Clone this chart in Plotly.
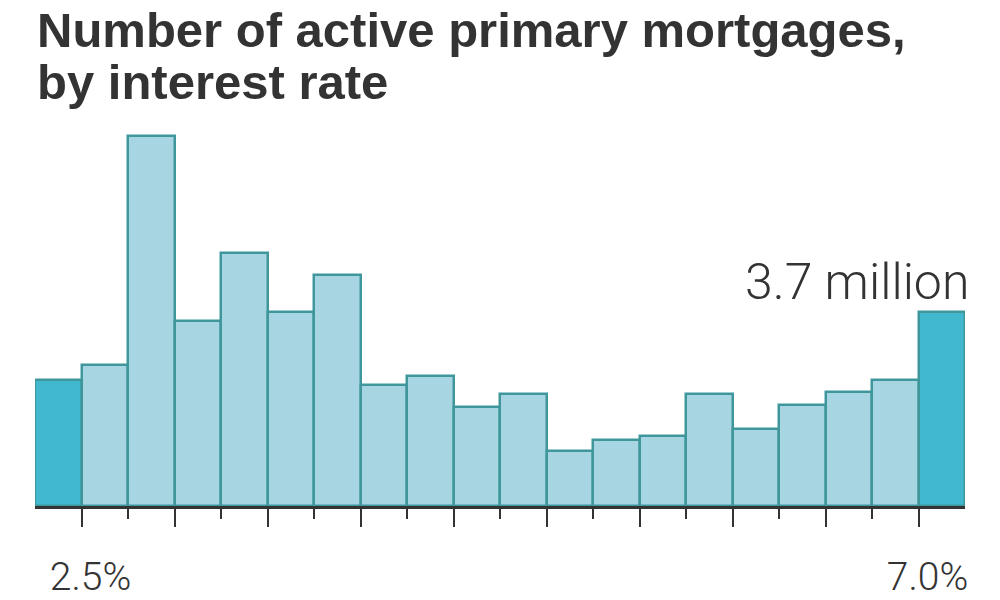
import plotly.graph_objects as go

# Data (millions of mortgages by interest-rate bin, 0.25-pt bins)
bin_centers = [2.375, 2.625, 2.875, 3.125, 3.375, 3.625, 3.875, 4.125, 4.375, 4.625,
               4.875, 5.125, 5.375, 5.625, 5.875, 6.125, 6.375, 6.625, 6.875, 7.125]
counts_millions = [2.40, 2.69, 7.06, 3.53, 4.83, 3.70, 4.41, 2.31, 2.48, 1.89,
                   2.14, 1.05, 1.26, 1.34, 2.14, 1.47, 1.93, 2.17, 2.40, 3.70]
major_ticks = [2.5, 3.0, 3.5, 4.0, 4.5, 5.0, 5.5, 6.0, 6.5, 7.0]
major_labels = ["2.5%", "", "", "", "", "", "", "", "", "7.0%"]
minor_ticks = [2.75, 3.25, 3.75, 4.25, 4.75, 5.25, 5.75, 6.25, 6.75]
title_line1 = "Number of active primary mortgages,"
title_line2 = "by interest rate"
callout = "3.7 million"

LIGHT = "#a8d5e2"
DARK = "#42b8cf"
EDGE = "#3f979c"
TEXT = "#333333"
TITLE_FONT = "Liberation Sans, Arial, sans-serif"
LIGHT_FONT = "Roboto, Liberation Sans, sans-serif"

colors = [DARK if i in (0, len(counts_millions) - 1) else LIGHT for i in range(len(counts_millions))]

fig = go.Figure(go.Bar(
    x=bin_centers, y=counts_millions, width=0.25,
    marker=dict(color=colors, line=dict(color=EDGE, width=2.5)),
    hoverinfo="x+y",
))

fig.update_layout(
    width=1000, height=600,
    margin=dict(l=35, r=35, t=113, b=94),
    paper_bgcolor="white", plot_bgcolor="white",
    bargap=0, showlegend=False,
    font=dict(family=TITLE_FONT, color=TEXT),
    xaxis=dict(
        range=[2.25, 7.25], showgrid=False, zeroline=False, automargin=False,
        showline=True, linecolor=TEXT, linewidth=3,
        tickmode="array", tickvals=major_ticks, ticktext=major_labels,
        ticks="outside", ticklen=18, tickwidth=2, tickcolor=TEXT,
        tickfont=dict(size=39, family=LIGHT_FONT, color=TEXT, weight=300),
        ticklabelstandoff=16, ticklabelshift=9,
        minor=dict(tickmode="array", tickvals=minor_ticks, ticks="outside",
                   ticklen=10, tickwidth=2, tickcolor=TEXT, showgrid=False),
        fixedrange=True,
    ),
    yaxis=dict(range=[0, 7.5], visible=False, fixedrange=True, automargin=False),
    annotations=[
        dict(text=title_line1, xref="paper", yref="paper", x=0, y=1 + (113 - 0.5) / 393,
             xanchor="left", yanchor="top", showarrow=False,
             font=dict(size=49, family=TITLE_FONT, color=TEXT, weight="bold")),
        dict(text=title_line2, xref="paper", yref="paper", x=0, y=1 + (113 - 53) / 393,
             xanchor="left", yanchor="top", showarrow=False,
             font=dict(size=49, family=TITLE_FONT, color=TEXT, weight="bold")),
        dict(text=callout, xref="paper", yref="paper", x=(971 - 35) / 930, y=1 - (251 - 113) / 393,
             xanchor="right", yanchor="top", showarrow=False,
             font=dict(size=50, family=LIGHT_FONT, color=TEXT, weight=300)),
    ],
)

fig.write_html("out.html", config={"displayModeBar": False},
               post_script="document.body.style.margin='0';")
